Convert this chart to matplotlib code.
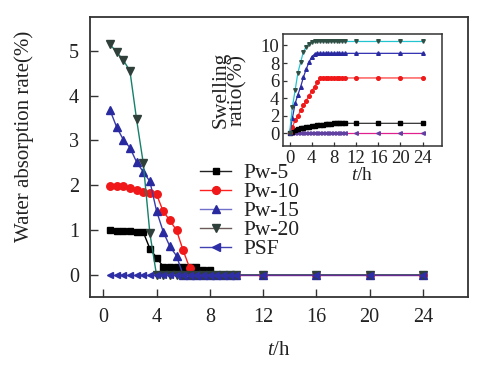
import matplotlib
matplotlib.use("Agg")
import matplotlib.pyplot as plt
from matplotlib.lines import Line2D

plt.rcParams['font.family'] = ['Liberation Serif', 'DejaVu Serif']
plt.rcParams['mathtext.fontset'] = 'custom'
plt.rcParams['mathtext.it'] = 'Liberation Serif:italic'
plt.rcParams['mathtext.rm'] = 'Liberation Serif'

# ---------------- data ----------------
t_main = [0.5, 1, 1.5, 2, 2.5, 3, 3.5, 4, 4.5, 5, 5.5, 6, 6.5, 7, 7.5, 8,
          8.5, 9, 9.5, 10, 12, 16, 20, 24]
pw5_abs = [1.00, 0.99, 0.99, 0.98, 0.97, 0.96, 0.59, 0.39, 0.19, 0.19, 0.19, 0.19,
           0.19, 0.19, 0.12, 0.12, 0, 0, 0, 0, 0, 0, 0, 0]
pw10_abs = [1.98, 1.98, 1.98, 1.94, 1.90, 1.86, 1.83, 1.80, 1.42, 1.22, 1.00, 0.55,
            0.15, 0, 0, 0, 0, 0, 0, 0, 0, 0, 0, 0]
pw15_abs = [3.68, 3.30, 3.02, 2.84, 2.52, 2.30, 2.09, 1.43, 0.97, 0.64, 0.43, 0,
            0, 0, 0, 0, 0, 0, 0, 0, 0, 0, 0, 0]
pw20_abs = [5.14, 4.97, 4.79, 4.55, 3.47, 2.50, 0.93, 0, 0, 0, 0, 0,
            0, 0, 0, 0, 0, 0, 0, 0, 0, 0, 0, 0]
psf_abs = [0, 0, 0, 0, 0, 0, 0, 0, 0, 0, 0, 0,
           0, 0, 0, 0, 0, 0, 0, 0, 0, 0, 0, 0]

t_ins = [0, 0.5, 1, 1.5, 2, 2.5, 3, 3.5, 4, 4.5, 5, 5.5, 6, 6.5, 7, 7.5, 8,
         8.5, 9, 9.5, 10, 12, 16, 20, 24]
pw5_sw = [0, 0.20, 0.40, 0.50, 0.60, 0.65, 0.70, 0.75, 0.80, 0.85, 0.90, 0.95, 1.00,
          1.05, 1.10, 1.12, 1.14, 1.14, 1.14, 1.14, 1.14, 1.14, 1.14, 1.14, 1.14]
pw10_sw = [0, 0.70, 1.50, 2.00, 2.60, 3.20, 3.70, 4.30, 4.80, 5.30, 5.80, 6.25, 6.30,
           6.30, 6.30, 6.30, 6.30, 6.30, 6.30, 6.30, 6.30, 6.30, 6.30, 6.30, 6.30]
pw15_sw = [0, 1.70, 3.40, 4.40, 5.30, 6.40, 7.30, 8.10, 8.70, 9.00, 9.10, 9.10, 9.10,
           9.10, 9.10, 9.10, 9.10, 9.10, 9.10, 9.10, 9.10, 9.10, 9.10, 9.10, 9.10]
pw20_sw = [0, 3.00, 4.90, 6.90, 8.10, 9.30, 9.85, 10.20, 10.40, 10.45, 10.45, 10.45, 10.45,
           10.45, 10.45, 10.45, 10.45, 10.45, 10.45, 10.45, 10.45, 10.45, 10.45, 10.45, 10.45]
psf_sw = [0, 0, 0, 0, 0, 0, 0, 0, 0, 0, 0, 0, 0,
          0, 0, 0, 0, 0, 0, 0, 0, 0, 0, 0, 0]

labels = ['Pw-5', 'Pw-10', 'Pw-15', 'Pw-20', 'PSF']
main_x_ticks = [0, 4, 8, 12, 16, 20, 24]
main_y_ticks = [0, 1, 2, 3, 4, 5]
ins_y_ticks = [0, 2, 4, 6, 8, 10]

# ---------------- figure ----------------
fig = plt.figure(figsize=(4.82, 3.68), dpi=100)
ax = fig.add_axes([0.1867, 0.1937, 0.7843, 0.7601])

spine_c = '#333333'
ms = 5.0
ax.plot(t_main, pw5_abs, color='black', lw=1.0, marker='s', ms=ms - 0.4,
        mfc='black', mec='black', zorder=4)
ax.plot(t_main, pw10_abs, color='#ff1a1a', lw=1.0, marker='o', ms=ms + 0.4,
        mfc='#f01818', mec='#f01818', zorder=4)
ax.plot(t_main, pw15_abs, color='#3a3aaa', lw=1.0, marker='^', ms=ms + 0.4,
        mfc='#2a2aa0', mec='#2a2aa0', zorder=4)
ax.plot(t_main, pw20_abs, color='#16806a', lw=1.0, marker='v', ms=ms + 0.4,
        mfc='#2f3f3a', mec='#2f3f3a', zorder=4)
ax.plot(t_main, psf_abs, color='#6a2a90', lw=1.0, marker='<', ms=ms,
        mfc='#2e2ea6', mec='#2e2ea6', zorder=5)

ax.set_xlim(-1, 27.4)
ax.set_ylim(-0.48, 5.75)
ax.set_xticks(main_x_ticks)
ax.set_yticks(main_y_ticks)
ax.tick_params(direction='in', length=6, width=1.0, colors=spine_c,
               labelsize=14.5, labelcolor='#222222', pad=8)
for s in ax.spines.values():
    s.set_linewidth(1.3)
    s.set_color(spine_c)
ax.set_ylabel('Water absorption rate(%)', fontsize=15, color='#222222')
ax.yaxis.set_label_coords(-0.148, 0.572)
ax.set_xlabel(r'$t$/h', fontsize=15, color='#222222', labelpad=10)

handles = [
    Line2D([], [], color='#222222', lw=1.0, marker='s', ms=ms, mfc='black', mec='black'),
    Line2D([], [], color='#ff2020', lw=1.0, marker='o', ms=ms + 0.6, mfc='#f01818', mec='#f01818'),
    Line2D([], [], color='#7070c8', lw=1.0, marker='^', ms=ms + 0.6, mfc='#2a2aa0', mec='#2a2aa0'),
    Line2D([], [], color='#6a5a58', lw=1.0, marker='v', ms=ms + 0.6, mfc='#2f3f3a', mec='#2f3f3a'),
    Line2D([], [], color='#4040b0', lw=1.0, marker='<', ms=ms + 0.6, mfc='#2e2ea6', mec='#2e2ea6'),
]
leg = ax.legend(handles, labels, loc='upper left', bbox_to_anchor=(0.291, 0.478),
                frameon=False, fontsize=15.5, handlelength=1.45, handletextpad=0.55,
                labelspacing=-0.05, borderaxespad=0, borderpad=0)
for txt in leg.get_texts():
    txt.set_color('#222222')

# ---------------- inset ----------------
ins = fig.add_axes([0.587, 0.603, 0.330, 0.3046])
sm = 2.6
ins.plot(t_ins, psf_sw, color='#e0208f', lw=0.9, marker='<', ms=sm,
         mfc='#6040a0', mec='#6040a0', zorder=3)
ins.plot(t_ins, pw5_sw, color='#333333', lw=0.9, marker='s', ms=sm - 0.3,
         mfc='black', mec='black', zorder=4)
ins.plot(t_ins, pw10_sw, color='#ff3a3a', lw=0.9, marker='o', ms=sm,
         mfc='#f01818', mec='#f01818', zorder=4)
ins.plot(t_ins, pw15_sw, color='#3030b0', lw=0.9, marker='^', ms=sm,
         mfc='#2a2aa0', mec='#2a2aa0', zorder=4)
ins.plot(t_ins, pw20_sw, color='#22c4d0', lw=0.9, marker='v', ms=sm,
         mfc='#2f4f45', mec='#2f4f45', zorder=4)
ins.set_xlim(-1.2, 27.5)
ins.set_ylim(-1.45, 11.3)
ins.set_xticks(main_x_ticks)
ins.set_yticks(ins_y_ticks)
ins.tick_params(direction='in', length=3, width=0.9, colors=spine_c,
                labelsize=13.5, labelcolor='#222222', pad=2.5)
for s in ins.spines.values():
    s.set_linewidth(1.1)
    s.set_color(spine_c)
ins.set_ylabel('Swelling\nratio(%)', fontsize=15.5, color='#222222',
               labelpad=10, linespacing=0.8)
ins.set_xlabel(r'$t$/h', fontsize=14, color='#222222', labelpad=0)

fig.savefig('out.png', dpi=100)
